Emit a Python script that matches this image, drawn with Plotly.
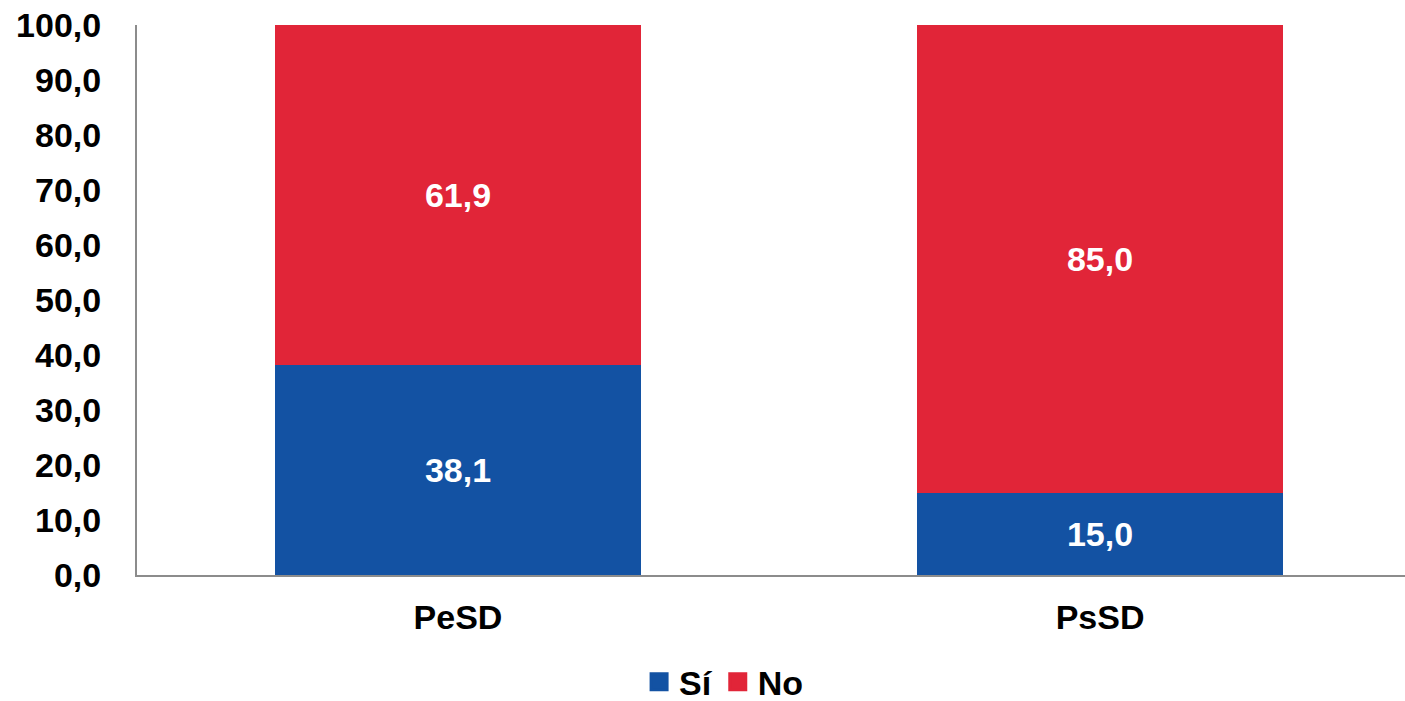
import plotly.graph_objects as go

categories = ["PeSD", "PsSD"]
si_values = [38.1, 15.0]
no_values = [61.9, 85.0]
tick_vals = [0, 10, 20, 30, 40, 50, 60, 70, 80, 90, 100]

BLUE = "#1352A3"
RED = "#E12538"
FONT = "Liberation Sans, Arial, sans-serif"
FS = 34

fig = go.Figure()
for name, vals, col in [("Sí", si_values, BLUE), ("No", no_values, RED)]:
    fig.add_trace(go.Bar(
        name=name, x=categories, y=vals, marker=dict(color=col, line=dict(width=0)),
        width=0.57, texttemplate="%{y:.1f}", textposition="inside", insidetextanchor="middle",
        textfont=dict(color="white", size=FS, family=FONT, weight="bold"), textangle=0,
        showlegend=False,
    ))
# legend entries with larger square markers
for name, col in [("Sí", BLUE), ("No", RED)]:
    fig.add_trace(go.Scatter(
        name=name, x=[None], y=[None], mode="markers",
        marker=dict(symbol="square", size=16, color=col, line=dict(color=col, width=3)),
        showlegend=True,
    ))

fig.update_layout(
    barmode="stack",
    separators=",.",
    width=1405, height=701,
    margin=dict(l=137, r=0, t=25, b=126, pad=0, autoexpand=False),
    plot_bgcolor="white", paper_bgcolor="white",
    font=dict(family=FONT, size=FS, color="black", weight="bold"),
    showlegend=True,
    legend=dict(orientation="h", x=0.463, xanchor="center", y=-0.195, yanchor="middle",
                font=dict(size=FS, family=FONT, color="black", weight="bold"),
                itemwidth=30, traceorder="normal", tracegroupgap=0),
)
fig.update_yaxes(range=[0, 100], tickvals=tick_vals, tickformat=".1f", automargin=False,
                 showgrid=False, zeroline=False, showline=True, linecolor="#8C8C8C", linewidth=2,
                 ticks="", ticklabelstandoff=27, ticklabeloverflow="allow",
                 tickfont=dict(size=FS, family=FONT, color="black", weight="bold"))
fig.update_xaxes(range=[-0.5, 1.475], showgrid=False, showline=True, linecolor="#8C8C8C", linewidth=2,
                 ticks="", ticklabelstandoff=11, automargin=False,
                 tickfont=dict(size=FS, family=FONT, color="black", weight="bold"))

fig.write_html("out.html",
               config={"displayModeBar": False},
               post_script="document.body.style.margin='0';document.body.style.overflow='hidden';")
